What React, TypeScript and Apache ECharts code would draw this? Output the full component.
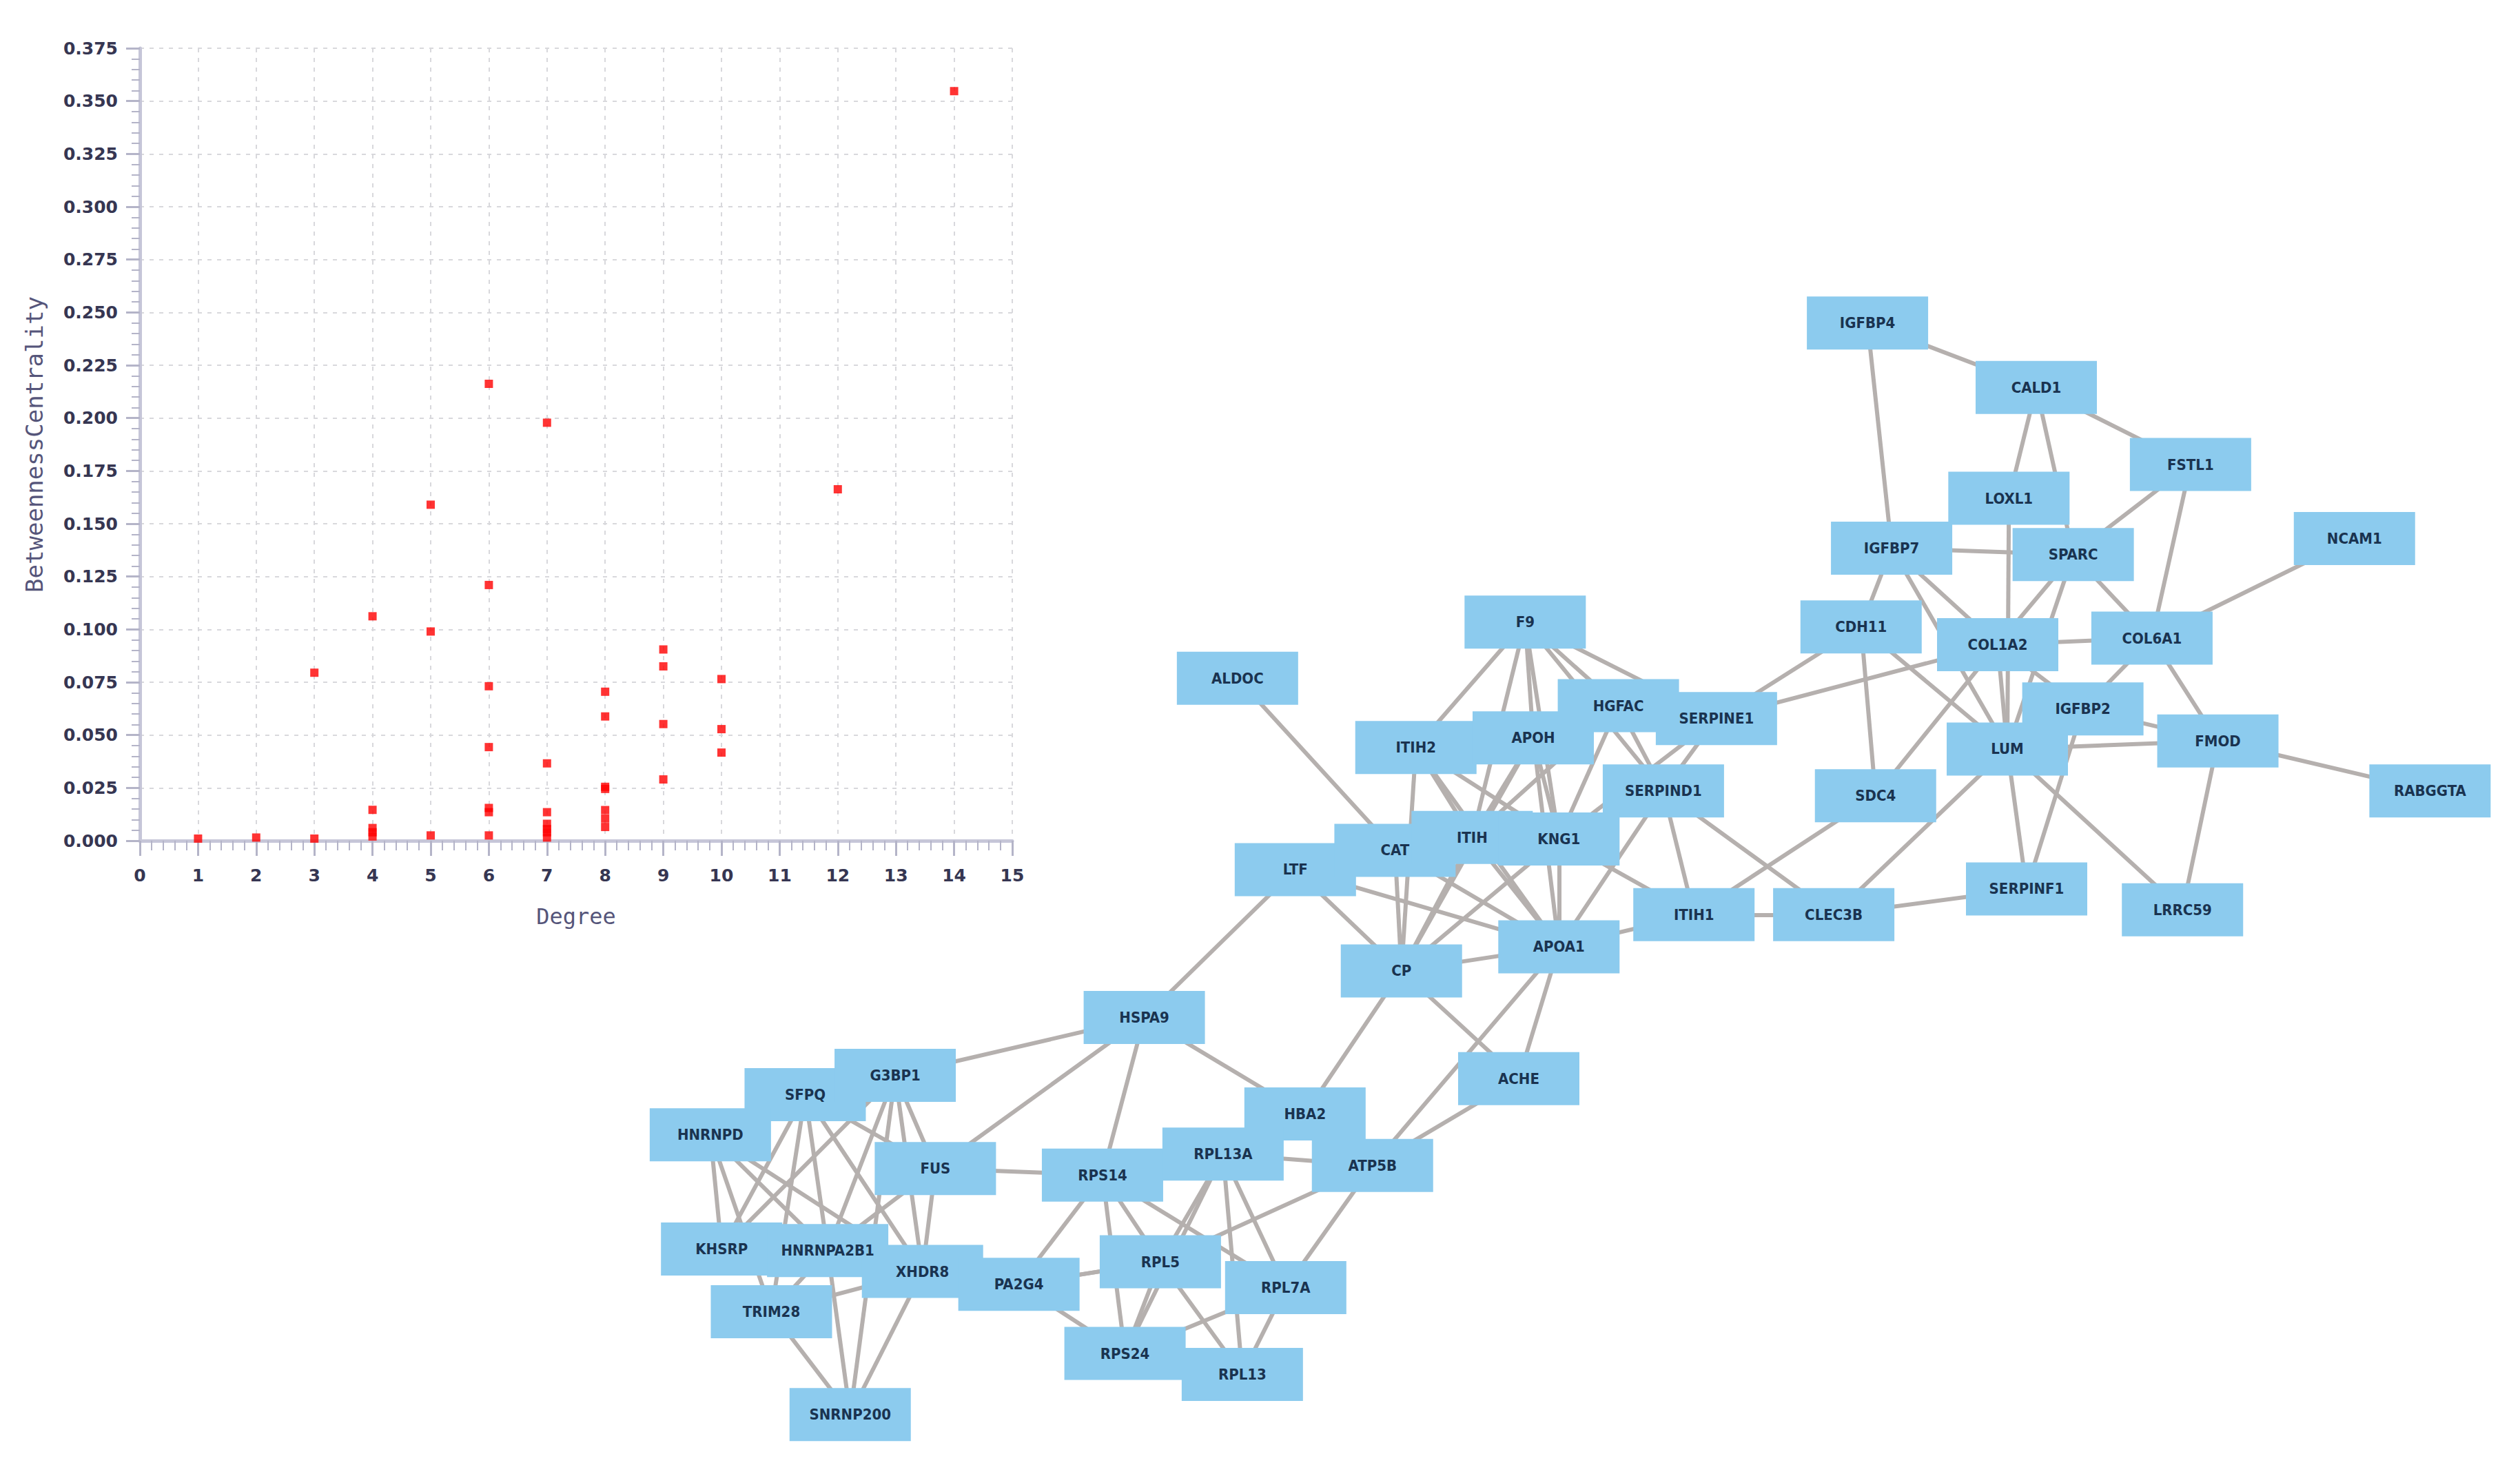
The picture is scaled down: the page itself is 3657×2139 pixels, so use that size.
import React, { useEffect, useRef } from "react";
import * as echarts from "echarts";

// ---------- Scatter data (Degree vs BetweennessCentrality) ----------
const degree = [1, 2, 3, 3, 4, 4, 4, 4, 4, 5, 5, 5, 6, 6, 6, 6, 6, 6, 6, 7, 7, 7, 7, 7, 7, 7, 8, 8, 8, 8, 8, 8, 8, 9, 9, 9, 9, 10, 10, 10, 12, 14];
const betweenness = [
  0.001, 0.0015, 0.0795, 0.001, 0.1062, 0.0146, 0.006, 0.004, 0.002, 0.159, 0.099, 0.0025,
  0.2162, 0.121, 0.0731, 0.0443, 0.0155, 0.0135, 0.0025, 0.1978, 0.0366, 0.0135, 0.008, 0.0055,
  0.004, 0.0015, 0.0705, 0.0588, 0.0255, 0.0245, 0.0145, 0.0105, 0.0065, 0.0905, 0.0825, 0.0552,
  0.029, 0.0765, 0.0528, 0.0417, 0.1663, 0.3547,
];
const xTicks = [0, 15, 1];
const yTicks = [0, 0.375, 0.025];

// ---------- Network data (layout coordinates) ----------
const nodeNames = [
  "IGFBP4", "CALD1", "FSTL1", "LOXL1", "NCAM1", "IGFBP7", "SPARC", "CDH11", "COL6A1", "COL1A2",
  "F9", "ALDOC", "SERPINE1", "ITIH2", "APOH", "HGFAC", "IGFBP2", "LUM", "FMOD", "RABGGTA",
  "SERPIND1", "SDC4", "LTF", "CAT", "ITIH", "KNG1", "ITIH1", "CLEC3B", "SERPINF1", "LRRC59",
  "APOA1", "CP", "HSPA9", "ACHE", "SFPQ", "HNRNPD", "G3BP1", "HBA2", "FUS", "RPS14",
  "RPL13A", "ATP5B", "TRIM28", "KHSRP", "HNRNPA2B1", "XHDR8", "PA2G4", "RPL5", "RPL7A", "RPS24",
  "RPL13", "SNRNP200",
];
const nodeX = [
  1162, 1267, 1363, 1250, 1465, 1177, 1290, 1158, 1339, 1243,
  949, 770, 1068, 881, 954, 1007, 1296, 1249, 1380, 1512,
  1035, 1167, 806, 868, 916, 970, 1054, 1141, 1261, 1358,
  970, 872, 712, 945, 501, 442, 557, 812, 582, 686,
  761, 854, 480, 449, 515, 574, 634, 722, 800, 700,
  773, 529,
];
const nodeY = [
  201, 241, 289, 310, 335, 341, 345, 390, 397, 401,
  387, 422, 447, 465, 459, 439, 441, 466, 461, 492,
  492, 495, 541, 529, 521, 522, 569, 569, 553, 566,
  589, 604, 633, 671, 681, 706, 669, 693, 727, 731,
  718, 725, 816, 777, 778, 791, 799, 785, 801, 842,
  855, 880,
];
const linkSources = [
  "IGFBP4", "IGFBP4", "CALD1", "CALD1", "CALD1", "FSTL1", "FSTL1", "NCAM1", "IGFBP7", "IGFBP7",
  "IGFBP7", "IGFBP7", "LOXL1", "SPARC", "SPARC", "SPARC", "COL1A2", "COL1A2", "COL1A2", "COL6A1",
  "COL6A1", "IGFBP2", "LUM", "FMOD", "FMOD", "LUM", "IGFBP2", "LUM", "COL1A2", "CDH11",
  "CDH11", "CDH11", "SERPINE1", "LUM", "SDC4", "CLEC3B", "ITIH1", "SERPIND1",
  "F9", "F9", "F9", "F9", "F9", "F9", "F9", "ALDOC", "ITIH2", "ITIH2",
  "ITIH2", "ITIH2", "APOH", "APOH", "APOH", "APOH", "HGFAC", "HGFAC", "HGFAC", "SERPINE1",
  "SERPINE1", "SERPIND1", "SERPIND1", "SERPIND1", "KNG1", "KNG1", "KNG1", "ITIH", "ITIH", "CAT",
  "CAT", "CAT", "LTF", "LTF", "LTF", "APOA1", "APOA1", "APOA1", "APOA1", "CP",
  "CP", "ACHE", "HSPA9", "HSPA9", "HSPA9", "HSPA9", "HBA2", "HBA2", "RPL13A", "RPL13A",
  "RPL13A", "RPL13A", "RPL13A", "RPL13A", "RPS14", "RPS14", "RPS14", "RPS14", "RPS14", "ATP5B",
  "ATP5B", "RPL5", "RPL5", "RPL5", "RPL7A", "RPL7A", "RPS24", "PA2G4", "PA2G4", "FUS",
  "FUS", "FUS", "FUS", "G3BP1", "G3BP1", "G3BP1", "G3BP1", "G3BP1", "SFPQ", "SFPQ",
  "SFPQ", "SFPQ", "SFPQ", "HNRNPD", "HNRNPD", "HNRNPD", "HNRNPD", "KHSRP", "KHSRP", "HNRNPA2B1",
  "HNRNPA2B1", "HNRNPA2B1", "TRIM28", "TRIM28", "XHDR8",
];
const linkTargets = [
  "CALD1", "IGFBP7", "FSTL1", "LOXL1", "SPARC", "SPARC", "COL6A1", "COL6A1", "SPARC", "CDH11",
  "COL1A2", "LUM", "LUM", "COL1A2", "LUM", "COL6A1", "COL6A1", "LUM", "IGFBP2", "IGFBP2",
  "FMOD", "FMOD", "FMOD", "RABGGTA", "LRRC59", "SERPINF1", "SERPINF1", "LRRC59", "SDC4", "SDC4",
  "LUM", "SERPINE1", "COL1A2", "CLEC3B", "ITIH1", "SERPINF1", "CLEC3B", "CLEC3B",
  "ITIH2", "APOH", "KNG1", "ITIH", "HGFAC", "SERPIND1", "SERPINE1", "CAT", "ITIH", "KNG1",
  "APOA1", "CP", "ITIH", "KNG1", "APOA1", "CP", "KNG1", "SERPIND1", "ITIH", "SERPIND1",
  "KNG1", "ITIH1", "APOA1", "KNG1", "APOA1", "CP", "ITIH1", "APOA1", "CP", "CP",
  "APOA1", "LTF", "CP", "HSPA9", "APOA1", "ITIH1", "CP", "ATP5B", "ACHE", "ACHE",
  "HBA2", "ATP5B", "G3BP1", "FUS", "RPS14", "HBA2", "RPL13A", "ATP5B", "ATP5B", "RPS14",
  "RPL5", "RPL7A", "RPL13", "RPS24", "RPL5", "RPS24", "PA2G4", "RPL7A", "FUS", "RPL7A",
  "RPL5", "RPS24", "RPL13", "PA2G4", "RPL13", "RPS24", "PA2G4", "XHDR8", "RPL5", "XHDR8",
  "HNRNPA2B1", "G3BP1", "SFPQ", "SFPQ", "XHDR8", "HNRNPA2B1", "KHSRP", "SNRNP200", "HNRNPD", "KHSRP",
  "HNRNPA2B1", "XHDR8", "TRIM28", "KHSRP", "HNRNPA2B1", "XHDR8", "TRIM28", "HNRNPA2B1", "XHDR8", "XHDR8",
  "SNRNP200", "TRIM28", "SNRNP200", "XHDR8", "SNRNP200",
];

const PAGE_W = 3657;
const PAGE_H = 2139;
const LAYOUT_W = 1568;
const LAYOUT_H = 917;

export default function App() {
  const ref = useRef<HTMLDivElement>(null);

  useEffect(() => {
    if (!ref.current) return;
    const chart = echarts.init(ref.current, null, { renderer: "svg" });

    const scatterData = degree.map((d, i) => [d, betweenness[i]]);
    const nodes = nodeNames.map((n, i) => ({ name: n, value: [nodeX[i], nodeY[i]] }));
    const links = linkSources.map((s, i) => ({ source: s, target: linkTargets[i] }));

    const axisColor = "#c6c6d8";
    const tickColor = "#b4b4c8";
    const gridColor = "#d8d8dc";
    const labelColor = "#363652";

    chart.setOption({
      animation: false,
      backgroundColor: "#ffffff",
      grid: [
        { left: 203, top: 70, width: 1266, height: 1150, containLabel: false },
        { left: 0, top: 0, width: PAGE_W, height: PAGE_H, containLabel: false },
      ],
      xAxis: [
        {
          gridIndex: 0,
          type: "value",
          min: xTicks[0],
          max: xTicks[1],
          interval: xTicks[2],
          name: "Degree",
          nameLocation: "middle",
          nameGap: 94,
          nameTextStyle: {
            fontFamily: "'DejaVu Sans Mono', monospace",
            fontSize: 32,
            color: "#55557a",
          },
          axisLine: { show: true, onZero: false, lineStyle: { color: axisColor, width: 5 } },
          axisTick: { show: true, length: 22, lineStyle: { color: tickColor, width: 3 } },
          minorTick: { show: true, splitNumber: 5, length: 14, lineStyle: { color: tickColor, width: 2 } },
          axisLabel: {
            margin: 38,
            fontFamily: "'DejaVu Sans', sans-serif",
            fontWeight: "bold",
            fontSize: 25,
            color: labelColor,
          },
          splitLine: { show: true, lineStyle: { color: gridColor, width: 2, type: [6, 8] } },
        },
        { gridIndex: 1, type: "value", min: 0, max: LAYOUT_W, show: false },
      ],
      yAxis: [
        {
          gridIndex: 0,
          type: "value",
          min: yTicks[0],
          max: yTicks[1],
          interval: yTicks[2],
          name: "BetweennessCentrality",
          nameLocation: "middle",
          nameGap: 136,
          nameTextStyle: {
            fontFamily: "'DejaVu Sans Mono', monospace",
            fontSize: 34,
            color: "#55557a",
          },
          axisLine: { show: true, onZero: false, lineStyle: { color: axisColor, width: 5 } },
          axisTick: { show: true, length: 20, lineStyle: { color: tickColor, width: 3 } },
          minorTick: { show: true, splitNumber: 5, length: 12, lineStyle: { color: tickColor, width: 2 } },
          axisLabel: {
            margin: 32,
            fontFamily: "'DejaVu Sans', sans-serif",
            fontWeight: "bold",
            fontSize: 25,
            color: labelColor,
            formatter: (v: number) => v.toFixed(3),
          },
          splitLine: { show: true, lineStyle: { color: gridColor, width: 2, type: [6, 8] } },
        },
        { gridIndex: 1, type: "value", min: 0, max: LAYOUT_H, inverse: true, show: false },
      ],
      series: [
        {
          type: "scatter",
          xAxisIndex: 0,
          yAxisIndex: 0,
          symbol: "rect",
          symbolSize: 12,
          itemStyle: { color: "#ff0000" },
          data: scatterData,
        },
        {
          type: "graph",
          layout: "none",
          coordinateSystem: "cartesian2d",
          xAxisIndex: 1,
          yAxisIndex: 1,
          symbol: "rect",
          symbolSize: [176, 77],
          itemStyle: { color: "#8ccbee" },
          label: {
            show: true,
            position: "inside",
            color: "#1a3350",
            fontSize: 22,
            fontWeight: "bold",
            fontFamily: "'DejaVu Sans Condensed', 'Liberation Sans Narrow', sans-serif",
          },
          lineStyle: { color: "#b5b0ae", width: 6, opacity: 1, curveness: 0 },
          emphasis: { disabled: true },
          data: nodes,
          links: links,
        },
      ],
    });

    return () => chart.dispose();
  }, []);

  return (
    <div
      ref={ref}
      style={{ position: "fixed", left: 0, top: 0, width: PAGE_W, height: PAGE_H, background: "#fff" }}
    />
  );
}
